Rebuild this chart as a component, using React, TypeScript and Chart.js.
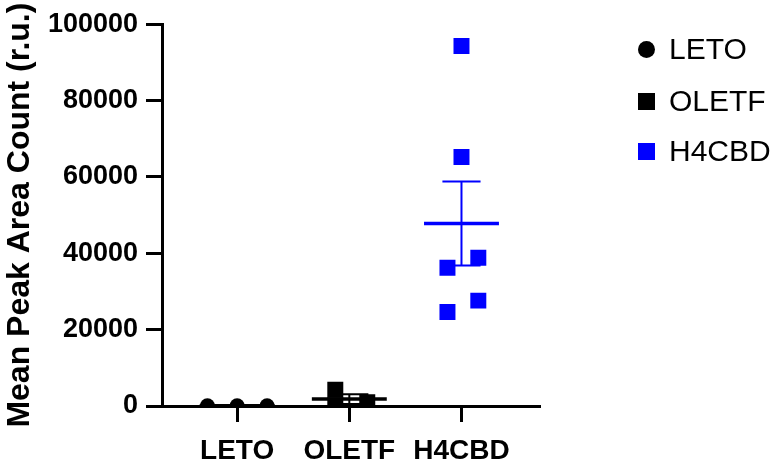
import React, { useEffect, useRef } from "react";
import { Chart, registerables } from "chart.js";

Chart.register(...registerables);

// ---- data ----
const categories = ["LETO", "OLETF", "H4CBD"];
const categoryPositions = [1, 2, 3];
const seriesColors = ["#000000", "#000000", "#0000FF"];
const seriesPointStyles = ["circle", "rect", "rect"];

const letoValues = [60, 40, 50];
const letoJitter = [-0.265, 0, 0.267];

const oletfValues = [4270, 180, 960];
const oletfJitter = [-0.125, -0.125, 0.16];

const h4cbdValues = [94300, 65200, 38800, 36200, 27600, 24600];
const h4cbdJitter = [0, 0, 0.15, -0.125, 0.15, -0.125];

const yTickValues = [0, 20000, 40000, 60000, 80000, 100000];
const yAxisTitle = "Mean Peak Area Count (r.u.)";

// ---- style constants ----
const FONT = '"Liberation Sans", Arial, Helvetica, sans-serif';
const pointRadii = [7.5, 11.3, 11.3];
const meanHalfWidth = 0.334;
const capHalfWidth = 0.17;
const legendRowCenters = [49, 101, 151];

const groups = [
  { values: letoValues, jitter: letoJitter },
  { values: oletfValues, jitter: oletfJitter },
  { values: h4cbdValues, jitter: h4cbdJitter },
];

const meanSemPlugin = {
  id: "meanSem",
  beforeDatasetsDraw(chart: any) {
    const { ctx } = chart;
    const x = chart.scales.x;
    const y = chart.scales.y;
    ctx.save();
    groups.forEach((g, gi) => {
      const n = g.values.length;
      const mean = g.values.reduce((a, b) => a + b, 0) / n;
      const sd = Math.sqrt(
        g.values.reduce((a, b) => a + (b - mean) * (b - mean), 0) / (n - 1)
      );
      const sem = sd / Math.sqrt(n);
      const c = categoryPositions[gi];
      const cx = x.getPixelForValue(c);
      const mL = x.getPixelForValue(c - meanHalfWidth);
      const mR = x.getPixelForValue(c + meanHalfWidth);
      const cL = x.getPixelForValue(c - capHalfWidth);
      const cR = x.getPixelForValue(c + capHalfWidth);
      const yM = y.getPixelForValue(mean);
      const yT = y.getPixelForValue(mean + sem);
      const yB = y.getPixelForValue(Math.max(0, mean - sem));
      ctx.strokeStyle = seriesColors[gi];
      // error bar
      ctx.lineWidth = 2;
      ctx.beginPath();
      ctx.moveTo(cx, yT);
      ctx.lineTo(cx, yB);
      ctx.moveTo(cL, yT);
      ctx.lineTo(cR, yT);
      ctx.moveTo(cL, yB);
      ctx.lineTo(cR, yB);
      ctx.stroke();
      // mean line
      ctx.lineWidth = 3.5;
      ctx.beginPath();
      ctx.moveTo(mL, yM);
      ctx.lineTo(mR, yM);
      ctx.stroke();
    });
    ctx.restore();
  },
};

export default function App() {
  const canvasRef = useRef<HTMLCanvasElement | null>(null);

  useEffect(() => {
    if (!canvasRef.current) return;
    const datasets = groups.map((g, gi) => ({
      label: categories[gi],
      data: g.values.map((v, i) => ({ x: categoryPositions[gi] + g.jitter[i], y: v })),
      pointStyle: seriesPointStyles[gi],
      pointRadius: pointRadii[gi],
      pointHoverRadius: pointRadii[gi],
      backgroundColor: seriesColors[gi],
      borderColor: seriesColors[gi],
      borderWidth: 0,
      showLine: false,
    }));

    const chart = new Chart(canvasRef.current, {
      type: "scatter",
      data: { datasets: datasets as any },
      plugins: [meanSemPlugin as any],
      options: {
        animation: false,
        responsive: true,
        maintainAspectRatio: false,
        layout: { padding: { top: 22, right: 237, left: 0, bottom: 0 } },
        plugins: {
          legend: { display: false },
          tooltip: { enabled: false },
        },
        scales: {
          x: {
            type: "linear",
            min: 0.33,
            max: 3.7,
            afterBuildTicks: (scale: any) => {
              scale.ticks = categoryPositions.map((value) => ({ value }));
            },
            afterFit: (scale: any) => {
              scale.height = 58;
            },
            ticks: {
              color: "#000",
              padding: 12,
              autoSkip: false,
              maxRotation: 0,
              font: { family: FONT, size: 28, weight: "bold" },
              callback: (value: any) => {
                const idx = categoryPositions.indexOf(Number(value));
                return idx >= 0 ? categories[idx] : "";
              },
            },
            grid: {
              display: true,
              drawOnChartArea: false,
              drawTicks: true,
              tickLength: 16,
              tickWidth: 3,
              tickColor: "#000",
            },
            border: { display: true, color: "#000", width: 3 },
          },
          y: {
            type: "linear",
            min: 0,
            max: 100000,
            afterBuildTicks: (scale: any) => {
              scale.ticks = yTickValues.map((value) => ({ value }));
            },
            afterFit: (scale: any) => {
              scale.width = 162;
            },
            ticks: {
              color: "#000",
              padding: 8,
              font: { family: FONT, size: 27, weight: "bold" },
              callback: (value: any) => String(value),
            },
            grid: {
              display: true,
              drawOnChartArea: false,
              drawTicks: true,
              tickLength: 16,
              tickWidth: 3,
              tickColor: "#000",
            },
            border: { display: true, color: "#000", width: 3 },
            title: {
              display: true,
              text: yAxisTitle,
              color: "#000",
              padding: { top: 1, bottom: 0 },
              font: { family: FONT, size: 32, weight: "bold" },
            },
          },
        },
      },
    });
    return () => chart.destroy();
  }, []);

  return (
    <div style={{ position: "absolute", left: 0, top: 0, width: 777, height: 464, background: "#fff" }}>
      <canvas ref={canvasRef} style={{ display: "block" }} />
      {categories.map((name, i) => (
        <div
          key={name}
          style={{
            position: "absolute",
            left: 638,
            top: legendRowCenters[i] - 18,
            height: 36,
            display: "flex",
            alignItems: "center",
            fontFamily: FONT,
            fontSize: 30,
            color: "#000",
            whiteSpace: "nowrap",
          }}
        >
          <span
            style={{
              display: "inline-block",
              width: 17,
              height: 17,
              background: seriesColors[i],
              borderRadius: seriesPointStyles[i] === "circle" ? "50%" : 0,
              marginRight: 14,
            }}
          />
          <span>{name}</span>
        </div>
      ))}
    </div>
  );
}
